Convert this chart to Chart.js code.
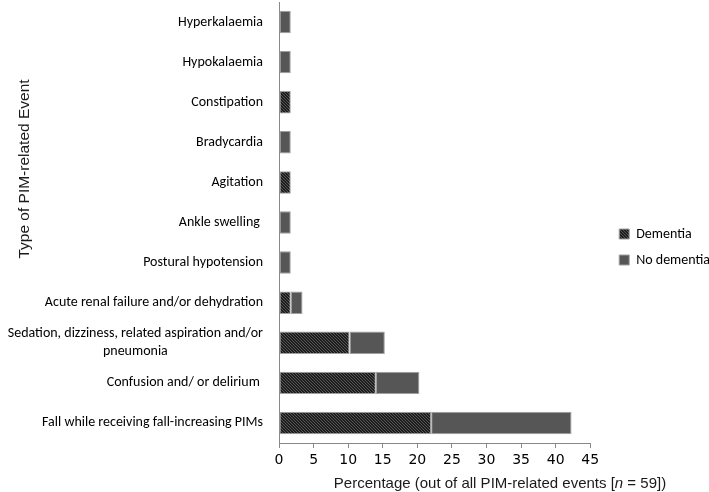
<!DOCTYPE html>
<html>
<head>
<meta charset="utf-8">
<script src="https://cdn.jsdelivr.net/npm/chart.js@4.4.1/dist/chart.umd.min.js"></script>
<style>
html,body{margin:0;padding:0;background:#fff;}
#wrap{width:709px;height:492px;position:relative;}
</style>
</head>
<body>
<div id="wrap"><canvas id="c" width="709" height="492"></canvas></div>
<script>
const categories = [
  'Hyperkalaemia',
  'Hypokalaemia',
  'Constipation',
  'Bradycardia',
  'Agitation',
  'Ankle swelling ',
  'Postural hypotension',
  'Acute renal failure and/or dehydration',
  ['Sedation, dizziness, related aspiration and/or', 'pneumonia'],
  'Confusion and/ or delirium ',
  'Fall while receiving fall-increasing PIMs'
];
const seriesNames = ['Dementia', 'No dementia'];
const dementia   = [0, 0, 1.7, 0, 1.7, 0, 0, 1.7, 10.2, 14.0, 22.0];
const noDementia = [1.7, 1.7, 0, 1.7, 0, 1.7, 1.7, 1.7, 5.1, 6.3, 20.3];
const xMin = 0, xMax = 45, xStep = 5;
const xTitleParts = ['Percentage (out of all PIM-related events [', 'n', ' = 59])'];
const yTitle = 'Type of PIM-related Event';

// hatch pattern for dementia
function makeHatch() {
  const p = document.createElement('canvas');
  p.width = 6; p.height = 6;
  const g = p.getContext('2d');
  g.fillStyle = '#1e1e1e';
  g.fillRect(0, 0, 6, 6);
  g.strokeStyle = '#555555';
  g.lineWidth = 1;
  g.beginPath();
  for (let k = -6; k <= 6; k += 3) {
    g.moveTo(k, 0);
    g.lineTo(k + 6, 6);
  }
  g.stroke();
  return document.getElementById('c').getContext('2d').createPattern(p, 'repeat');
}
const hatch = makeHatch();

const labelFont = 'Carlito, Lato, sans-serif';

const centerMultiLine = {
  id: 'centerMultiLine',
  beforeDraw(chart) {
    const ys = chart.scales.y;
    const items = ys.getLabelItems();
    const ctx = chart.ctx;
    items.forEach(it => {
      if (Array.isArray(it.label) && !it._centered) {
        ctx.save();
        ctx.font = it.font.string;
        const w = Math.max(...it.label.map(l => ctx.measureText(l).width));
        ctx.restore();
        it.options.textAlign = 'center';
        it.options.translation[0] -= w / 2;
        it._centered = true;
      }
    });
  }
};

const shiftLegend = {
  id: 'shiftLegend',
  afterLayout(chart) {
    const lg = chart.legend;
    if (!lg) return;
    const pad = lg.options.labels.padding;
    const target = chart.chartArea.right + 29;
    const dx = target - (lg.left + pad);
    lg.left += dx; lg.right += dx;
  }
};

const titles = {
  id: 'titles',
  afterDraw(chart) {
    const ctx = chart.ctx;
    ctx.save();
    ctx.fillStyle = '#1a1a1a';
    ctx.font = '15.5px "Liberation Sans", Arial, sans-serif';
    ctx.textBaseline = 'alphabetic';
    ctx.translate(29, 169);
    ctx.rotate(-Math.PI / 2);
    ctx.textAlign = 'center';
    ctx.fillText(yTitle, 0, 0);
    ctx.restore();

    ctx.save();
    ctx.fillStyle = '#1a1a1a';
    ctx.textBaseline = 'alphabetic';
    ctx.textAlign = 'left';
    const fonts = ['15px "Liberation Sans", Arial, sans-serif', 'italic 15px "Liberation Sans", Arial, sans-serif', '15px "Liberation Sans", Arial, sans-serif'];
    const widths = xTitleParts.map((t, i) => { ctx.font = fonts[i]; return ctx.measureText(t).width; });
    const total = widths.reduce((a, b) => a + b, 0);
    let x = 500 - total / 2;
    xTitleParts.forEach((t, i) => { ctx.font = fonts[i]; ctx.fillText(t, x, 488); x += widths[i]; });
    ctx.restore();
  }
};

new Chart(document.getElementById('c'), {
  type: 'bar',
  data: {
    labels: categories,
    datasets: [
      { label: seriesNames[0], data: dementia, backgroundColor: hatch, borderColor: '#a0a0a0', borderWidth: 1, borderSkipped: false },
      { label: seriesNames[1], data: noDementia, backgroundColor: '#565656', borderColor: '#a0a0a0', borderWidth: 1, borderSkipped: false }
    ]
  },
  options: {
    indexAxis: 'y',
    responsive: false,
    animation: false,
    devicePixelRatio: 1,
    categoryPercentage: 1,
    barPercentage: 0.56,
    layout: { padding: { top: 2, left: 0, right: 6, bottom: 0 } },
    plugins: {
      legend: {
        position: 'right',
        labels: {
          font: { family: labelFont, size: 14 },
          color: '#000',
          boxWidth: 10,
          boxHeight: 10,
          padding: 12
        }
      },
      tooltip: { enabled: false },
      title: { display: false }
    },
    scales: {
      x: {
        stacked: true,
        min: xMin,
        max: xMax,
        ticks: { stepSize: xStep, font: { family: 'DejaVu Sans', size: 14 }, color: '#000', padding: 4 },
        grid: { display: true, drawOnChartArea: false, drawTicks: true, tickLength: 5, color: '#888' },
        border: { display: true, color: '#888', width: 1 },
        afterFit(s) { s.height = 49; }
      },
      y: {
        stacked: true,
        ticks: { font: { family: labelFont, size: 14, lineHeight: 1.3 }, color: '#000', padding: 8, autoSkip: false },
        grid: { display: false },
        border: { display: true, color: '#888', width: 1 },
        afterFit(s) { s.width = 279; s.paddingTop = 0; s.paddingBottom = 0; }
      }
    }
  },
  plugins: [centerMultiLine, shiftLegend, titles]
});
</script>
</body>
</html>
